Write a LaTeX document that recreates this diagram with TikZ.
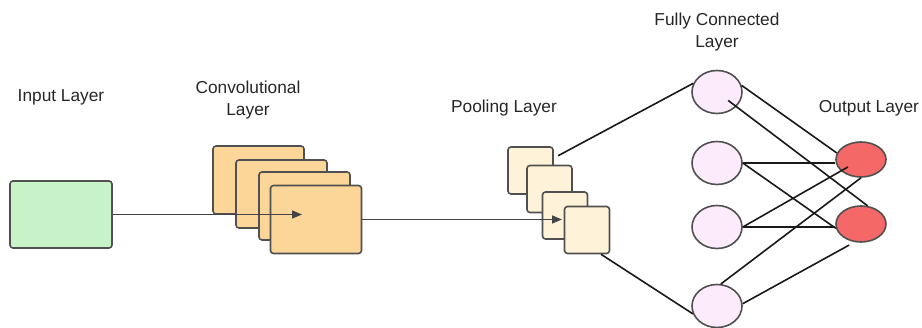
\documentclass[tikz,border=0pt]{standalone}
\usepackage{fontspec}
\setmainfont{Liberation Sans}
\usetikzlibrary{arrows.meta,positioning,shapes.geometric,calc}
\definecolor{inkgrey}{RGB}{38,38,38}
\definecolor{edgegrey}{RGB}{80,80,80}
\definecolor{mint}{RGB}{200,242,200}
\definecolor{apricot}{RGB}{252,213,152}
\definecolor{cream}{RGB}{254,243,216}
\definecolor{blush}{RGB}{252,236,251}
\definecolor{coral}{RGB}{245,104,104}

\begin{document}
\begin{tikzpicture}[x=1pt,y=-1pt,
  font=\fontsize{17.3}{22}\selectfont,
  lbl/.style={text=inkgrey,align=center,inner sep=0pt},
  bx/.style={draw=edgegrey,rounded corners=3pt,line width=1.6pt,inner sep=0pt},
  fmap/.style={bx,fill=apricot,minimum width=91pt,minimum height=68pt},
  pmap/.style={bx,fill=cream,minimum width=45pt,minimum height=47pt},
  unit/.style={ellipse,draw=edgegrey,line width=1.6pt,fill=blush,
               minimum width=50pt,minimum height=43pt,inner sep=0pt},
  outu/.style={unit,fill=coral,minimum height=35pt},
  ln/.style={line width=1.6pt,draw=black!90},
  ar/.style={ln,draw=edgegrey!85!black,
             -{Triangle[length=10pt,width=8pt]}}]
\useasboundingbox (0,0) rectangle (922,328);

% layer titles
\node[lbl] (tin) at (61,97) {Input Layer};
\node[lbl] (tconv) at (248,100) {Convolutional\\Layer};
\node[lbl] (tpool) at (504,108) {Pooling Layer};
\node[lbl] (tfc) at (717,32) {Fully Connected\\Layer};
\node[lbl] (tout) at (869,108) {Output Layer};

% input and feature maps
\node[bx,fill=mint,minimum width=102pt,minimum height=67pt] (inp) at (61,214.5) {};
\node[fmap] (c1) at (258.5,180) {};
\node[fmap] (c2) at (281.5,194) {};
\node[fmap] (c3) at (304.5,206) {};
\node[fmap] (c4) at (316,219.5) {};
\draw[ar,shorten >=14pt] (inp.east) -- (inp.east -| c4.center);

\node[pmap] (p1) at (530.5,170.5) {};
\node[pmap] (p2) at (549.5,189) {};
\node[pmap] (p3) at (565,215.5) {};
\node[pmap] (p4) at (587,230) {};
\draw[ar,shorten >=3pt] (c4.east) -- (c4.east -| p3.center);

% dense part
\node[unit] (fc1) at (717,92) {};
\node[unit] (fc2) at (717,163) {};
\node[unit] (fc3) at (717,227) {};
\node[unit] (fc4) at (717,306) {};
\node[outu] (out1) at (861,159.5) {};
\node[outu,minimum height=36pt] (out2) at (861,224) {};

\draw[ln,shorten <=5pt] (p1) -- (fc1.160);
\draw[ln] (p4.-60) -- (fc4.198);

\draw[ln] (fc1.15) -- (out1.165);
\draw[ln,shorten <=14pt] (fc1.center) -- (out2.70);
\draw[ln] (fc2.east) -- (fc2.east -| out1.west);
\draw[ln] (fc2.east) -- (out2.190);
\draw[ln,shorten >=15pt] (fc3.east) -- (out1.center);
\draw[ln] (fc3.east) -- (fc3.east -| out2.west);
\draw[ln] (fc4.80) -- (out1.south);
\draw[ln,shorten >=6pt] (fc4.5) -- (out2.-110);
\end{tikzpicture}
\end{document}
